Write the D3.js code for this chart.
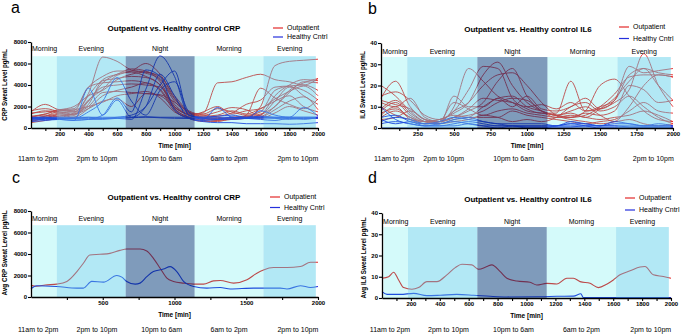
<!DOCTYPE html>
<html>
<head>
<meta charset="utf-8">
<script src="https://cdn.jsdelivr.net/npm/d3@7"></script>
<style>
body { margin: 0; background: #fff; }
svg { font-family: "Liberation Sans", Arial, sans-serif; }
svg text { fill: #000; }
</style>
</head>
<body>
<script>
// time grid for the individual sweat traces (min)
var timeGrid = [0,100,200,300,400,500,600,700,800,900,1000,1100,1200,1300,1400,1500,1600,1700,1800,1900,2000];

// a: CRP per subject, outpatient
var crpOutpatient = [
  [1000,1300,1600,1500,3200,6600,6200,5400,5200,4800,3000,1600,1200,1000,900,1100,1300,2000,3500,4200,4600],
  [900,1100,1400,1500,2500,4200,5000,5300,6000,5000,2800,1500,1000,900,800,1000,1200,2500,3800,3500,2600],
  [1500,2200,1700,1800,3800,4800,5300,5300,5100,4500,2500,1400,1300,1800,1500,1200,1500,3500,3900,4000,3500],
  [1300,1600,1400,1200,3000,4400,4600,4800,4700,4000,2200,1300,1400,4200,4300,4700,5000,4500,4300,4000,4600],
  [800,1000,1200,1000,2500,3800,4000,4100,4000,3800,2000,1200,900,800,1000,900,1200,3000,4000,4500,4400],
  [600,900,1100,1300,2000,3300,3400,3300,3200,3100,2400,1500,1100,1200,1600,1300,1800,2500,3000,2000,1500],
  [1600,1800,1500,1300,1800,2500,2700,2000,3200,3000,1900,1200,900,700,800,1200,3700,2800,2200,1800,2700],
  [1100,1300,1700,1600,3800,4200,4300,4400,4200,3600,1800,1100,1500,2000,1300,1600,1800,2700,3400,3900,3000],
  [700,900,1300,1200,2600,3600,4900,5200,4800,4000,1800,1000,700,600,900,1000,2000,5800,6200,6300,6400],
  [500,700,900,1000,1800,3000,3500,3800,4200,3500,1600,900,600,700,1000,1100,900,1400,2000,1600,1200],
  [1000,1200,1000,1400,2200,4500,5000,5500,5300,4300,2000,1300,1200,1500,1900,1700,1100,2000,3300,4300,4200],
  [1400,1500,1700,2000,3000,3500,4500,5000,5200,4600,2700,1400,1000,1100,1400,2200,2600,3800,3900,3000,2200],
  [900,1100,1600,1700,2000,2400,3000,3200,3400,2800,1500,1000,800,900,800,900,1000,1700,2500,2900,1700]
];
// a: CRP per subject, healthy control
var crpHealthy = [
  [800,850,900,850,800,800,900,800,3600,6700,4800,1200,900,800,800,900,1000,900,800,900,900],
  [1000,1000,900,900,1000,900,1000,1200,2000,4000,5300,1200,1000,1100,1200,1000,1100,1000,1000,1000,1000],
  [700,800,800,700,800,1200,2800,1500,5400,4800,1700,900,700,800,1000,900,1600,1200,1000,1900,1100],
  [900,900,900,900,1500,2500,4700,2500,1200,3500,4300,1500,800,1900,1000,900,800,700,900,800,1000],
  [600,700,800,700,3700,1200,2600,1000,2000,5000,3000,900,600,500,500,400,400,400,350,400,500],
  [850,900,880,860,870,880,900,950,1000,950,900,880,860,850,870,880,900,920,900,880,900],
  [950,1000,1000,1000,1000,1000,1000,1000,1050,1000,1000,1000,1000,1000,1000,1000,1000,1000,1000,1000,1000]
];

// b: IL6 per subject, outpatient
var il6Outpatient = [
  [8,12,6,3,4,7,12,25,31,20,12,8,6,7,5,9,14,22,28,26,25],
  [14,22,10,4,3,10,28,22,15,12,8,7,6,5,6,10,16,24,25,25,24],
  [15,17,13,6,4,8,18,29,28,14,9,7,7,22,8,9,12,18,35,20,10],
  [12,10,14,5,3,5,6,8,12,14,13,8,6,5,8,20,23,15,8,4,3],
  [9,13,7,3,2,15,10,10,14,10,15,9,8,10,14,9,13,29,26,27,28],
  [5,8,5,2,3,12,9,6,8,9,7,6,5,5,7,6,8,20,18,12,13],
  [20,15,8,3,2,4,5,10,14,15,10,8,6,8,10,6,3,4,2,1,2],
  [10,6,4,3,4,6,5,5,5,8,6,5,4,3,2,3,4,8,12,8,7],
  [6,10,4,2,3,8,12,20,25,26,20,12,6,4,3,2,3,10,20,25,24],
  [13,11,9,4,2,3,4,6,5,3,4,3,5,10,12,8,10,15,10,5,2],
  [7,9,5,3,3,5,8,12,22,28,15,8,5,6,5,4,5,6,8,6,3],
  [4,5,8,4,3,5,9,14,13,12,10,11,9,12,8,10,13,25,28,20,13]
];
// b: IL6 per subject, healthy control
var il6Healthy = [
  [10,4,2,1,1,2,3,2,1,1,1,1,1,2,2,1,2,2,1,1,1],
  [5,6,3,2,2,4,5,3,2,1,1,1,1,1,1,1,1,1,1,1,1],
  [3,5,4,2,3,5,4,3,2,2,2,2,1,3,2,1,3,2,1,2,1],
  [2,3,2,1,2,3,2,1,1,1,0.5,0.5,0.5,0.5,1,1,1,0.5,0.5,0.5,0.5],
  [0,0,0,0,0,0,0,0,0,0,0,0,0,0,0,0,0,0,0,0,0],
  [4,2,3,1,1,1,2,1,0,1,0,0,1,2,1,0,0,0,0,0,0]
];

// c: average CRP
var avgCrpOutTime = [0,40,100,180,250,320,365,410,480,550,620,667,760,807,853,900,947,993,1063,1133,1202,1272,1319,1412,1505,1574,1620,1691,1784,1877,1947,2000];
var avgCrpOut = [1080,1000,1120,1200,1450,2370,3140,3900,3970,4060,4340,4460,4460,4280,3600,2680,1750,1450,1290,1200,1200,1500,1540,1290,1600,2215,2520,2740,2740,2830,3230,3230];
var avgCrpHealthyTime = [0,40,180,320,365,423,505,598,633,667,726,760,807,853,923,970,1016,1063,1133,1226,1319,1388,1551,1737,1784,1877,1947,2000];
var avgCrpHealthy = [770,1050,980,830,830,1450,1380,2000,1850,1450,1200,1290,1900,2370,2600,2830,2370,1450,980,830,890,740,830,830,740,1050,890,980];

// d: average IL6
var avgIl6OutTime = [0,46,80,115,150,207,253,311,380,449,507,553,622,668,726,760,818,864,933,1025,1071,1141,1210,1279,1325,1371,1440,1498,1555,1601,1647,1717,1786,1820,1878,1947,2000];
var avgIl6Out = [9.3,10,12.1,8.5,4.9,4.1,4.9,7.7,7.7,10.9,14.3,15.9,15.6,13.5,14.8,15.6,12.4,9.3,8.0,7.4,6.1,6.9,6.6,9.3,9.3,7.7,6.9,4.9,6.5,8.5,10.9,12.8,14.6,14.8,10.9,10.1,9.3];
var avgIl6HealthyTime = [0,35,127,219,311,403,518,634,749,864,1094,1210,1325,1376,1394,1555,2000];
var avgIl6Healthy = [3.0,1.7,1.7,2.2,1.1,1.3,1.7,1.3,0.8,0.5,0.6,0.8,0.9,2.0,0.2,0.2,0.2];

// time-of-day bands
var periodNames = ["Morning","Evening","Night","Morning","Evening"];
var periodEdges = [10,180,660,1140,1620,1985];
var clockNames = ["11am to 2pm","2pm to 10pm","10pm to 6am","6am to 2pm","2pm to 10pm"];
var legendNames = ["Outpatient","Healthy Cntrl"];

var bandFill = {Morning: "rgb(0,228,228)", Evening: "rgb(84,204,233)", Night: "rgb(0,55,119)"};
var bandAlpha = {Morning: 0.17, Evening: 0.45, Night: 0.5};
var redCol = "#e32b2b", blueCol = "#2530dc";

var svg = d3.select("body").append("svg")
  .attr("width", 683).attr("height", 335);

function toPoints(t, v) {
  return t.map(function(d, i) { return [d, v[i]]; });
}

function drawPanel(p) {
  var x = d3.scaleLinear().domain([0, 2000]).range([p.left, p.right]);
  var y = d3.scaleLinear().domain([0, p.yMax]).range([p.bottom, p.top]);
  var g = svg.append("g");

  var line = d3.line()
    .defined(function(d) { return d[1] != null; })
    .x(function(d) { return x(d[0]); })
    .y(function(d) { return y(d[1]); })
    .curve(d3.curveMonotoneX);

  // traces first, bands are laid over them
  p.out.forEach(function(s) {
    g.append("path").attr("d", line(s)).attr("fill", "none")
      .attr("stroke", redCol).attr("stroke-width", p.lw);
  });
  p.healthy.forEach(function(s) {
    g.append("path").attr("d", line(s)).attr("fill", "none")
      .attr("stroke", blueCol).attr("stroke-width", p.lw);
  });

  var bandTop = p.yMax * 0.835;
  periodNames.forEach(function(name, i) {
    g.append("rect")
      .attr("x", x(periodEdges[i]))
      .attr("y", y(bandTop))
      .attr("width", x(periodEdges[i + 1]) - x(periodEdges[i]))
      .attr("height", y(0) - y(bandTop))
      .attr("fill", bandFill[name])
      .attr("fill-opacity", bandAlpha[name]);
  });
  periodNames.forEach(function(name, i) {
    g.append("text")
      .attr("x", x((periodEdges[i] + periodEdges[i + 1]) / 2))
      .attr("y", p.bandLabelY)
      .attr("text-anchor", "middle")
      .attr("font-size", 7)
      .text(name);
    g.append("text")
      .attr("x", x(p.clockAt[i]))
      .attr("y", p.clockY)
      .attr("text-anchor", "middle")
      .attr("font-size", 7)
      .text(clockNames[i]);
  });

  // axes
  var xAxis = d3.axisBottom(x).tickValues(p.xTicks).tickSize(3).tickSizeOuter(0)
    .tickFormat(function(d) { return p.xLabels.indexOf(d) >= 0 ? d : ""; });
  var gx = g.append("g").attr("transform", "translate(0," + p.bottom + ")").call(xAxis);
  var yAxis = d3.axisLeft(y).tickValues(p.yTicks).tickSize(3).tickSizeOuter(0)
    .tickFormat(d3.format("d"));
  var gy = g.append("g").attr("transform", "translate(" + p.left + ",0)").call(yAxis);
  [gx, gy].forEach(function(ax) {
    ax.select(".domain").attr("stroke", "#000").attr("stroke-width", 1.3);
    ax.selectAll(".tick line").attr("stroke", "#000").attr("stroke-width", 1.1);
    ax.selectAll(".tick text").attr("font-size", 6).attr("font-weight", "bold")
      .attr("font-family", "Liberation Sans, Arial, sans-serif");
  });
  gx.selectAll(".tick text").attr("dy", "0.9em").attr("y", 3);
  gy.selectAll(".tick text").attr("x", -4);

  g.append("text").attr("x", (p.left + p.right) / 2).attr("y", p.bottom + 20)
    .attr("text-anchor", "middle").attr("font-size", 6.5).attr("font-weight", "bold")
    .text("Time [min]");
  g.append("text")
    .attr("transform", "translate(" + p.yTitleX + "," + p.yTitleMid + ") rotate(-90)")
    .attr("text-anchor", "middle").attr("font-size", 6.3).attr("font-weight", "bold")
    .text(p.yTitle);

  g.append("text").attr("x", p.titleX).attr("y", p.titleY)
    .attr("text-anchor", "middle").attr("font-size", 8).attr("font-weight", "bold")
    .text(p.title);
  g.append("text").attr("x", p.letterX).attr("y", p.letterY)
    .attr("font-size", 16).text(p.letter);

  [redCol, blueCol].forEach(function(c, i) {
    var ly = p.legY + i * p.legGap;
    g.append("line").attr("x1", p.legX).attr("x2", p.legX + 10)
      .attr("y1", ly).attr("y2", ly).attr("stroke", c).attr("stroke-width", 1.2);
    g.append("text").attr("x", p.legX + 14).attr("y", ly + 2.4)
      .attr("font-size", 7).text(legendNames[i]);
  });
}

function gridSeries(list) {
  return list.map(function(v) { return toPoints(timeGrid, v); });
}

drawPanel({
  letter: "a", letterX: 11, letterY: 13,
  left: 31, right: 318, top: 42, bottom: 128, yMax: 8000,
  yTicks: [0,2000,4000,6000,8000],
  xTicks: d3.range(100, 2001, 100), xLabels: d3.range(200, 2001, 200),
  out: gridSeries(crpOutpatient), healthy: gridSeries(crpHealthy), lw: 0.9,
  title: "Outpatient vs. Healthy control CRP", titleX: 174, titleY: 31,
  yTitle: "CRP Sweat Level pg/mL", yTitleX: 7, yTitleMid: 85,
  bandLabelY: 51, clockY: 161, clockAt: [50,460,910,1380,1860],
  legX: 273, legY: 28, legGap: 9
});

drawPanel({
  letter: "b", letterX: 368, letterY: 14,
  left: 381, right: 673, top: 43, bottom: 128, yMax: 40,
  yTicks: [0,10,20,30,40],
  xTicks: d3.range(125, 2001, 125), xLabels: d3.range(250, 2001, 250),
  out: gridSeries(il6Outpatient), healthy: gridSeries(il6Healthy), lw: 0.9,
  title: "Outpatient vs. Healthy control IL6", titleX: 528, titleY: 32,
  yTitle: "IL6 Sweat Level pg/mL", yTitleX: 365, yTitleMid: 85,
  bandLabelY: 54, clockY: 161, clockAt: [91,430,908,1380,1865],
  legX: 619, legY: 27, legGap: 11.5
});

drawPanel({
  letter: "c", letterX: 12, letterY: 183,
  left: 31, right: 318, top: 211, bottom: 297, yMax: 8000,
  yTicks: [0,2000,4000,6000,8000],
  xTicks: d3.range(250, 2001, 250), xLabels: [500,1000,1500,2000],
  out: [toPoints(avgCrpOutTime, avgCrpOut)], healthy: [toPoints(avgCrpHealthyTime, avgCrpHealthy)], lw: 1.1,
  title: "Outpatient vs. Healthy control CRP", titleX: 174, titleY: 200,
  yTitle: "Avg CRP Sweat Level pg/mL", yTitleX: 7, yTitleMid: 253,
  bandLabelY: 221, clockY: 332, clockAt: [50,460,910,1380,1860],
  legX: 270, legY: 197, legGap: 10.5
});

drawPanel({
  letter: "d", letterX: 368, letterY: 183,
  left: 382, right: 671, top: 213, bottom: 298, yMax: 40,
  yTicks: [0,10,20,30,40],
  xTicks: d3.range(100, 2001, 100), xLabels: d3.range(200, 2001, 200),
  out: [toPoints(avgIl6OutTime, avgIl6Out)], healthy: [toPoints(avgIl6HealthyTime, avgIl6Healthy)], lw: 1.1,
  title: "Outpatient vs. Healthy control IL6", titleX: 528, titleY: 202,
  yTitle: "Avg IL6 Sweat Level pg/mL", yTitleX: 366, yTitleMid: 258,
  bandLabelY: 224, clockY: 332, clockAt: [55,460,910,1380,1860],
  legX: 625, legY: 198, legGap: 12
});
</script>
</body>
</html>
